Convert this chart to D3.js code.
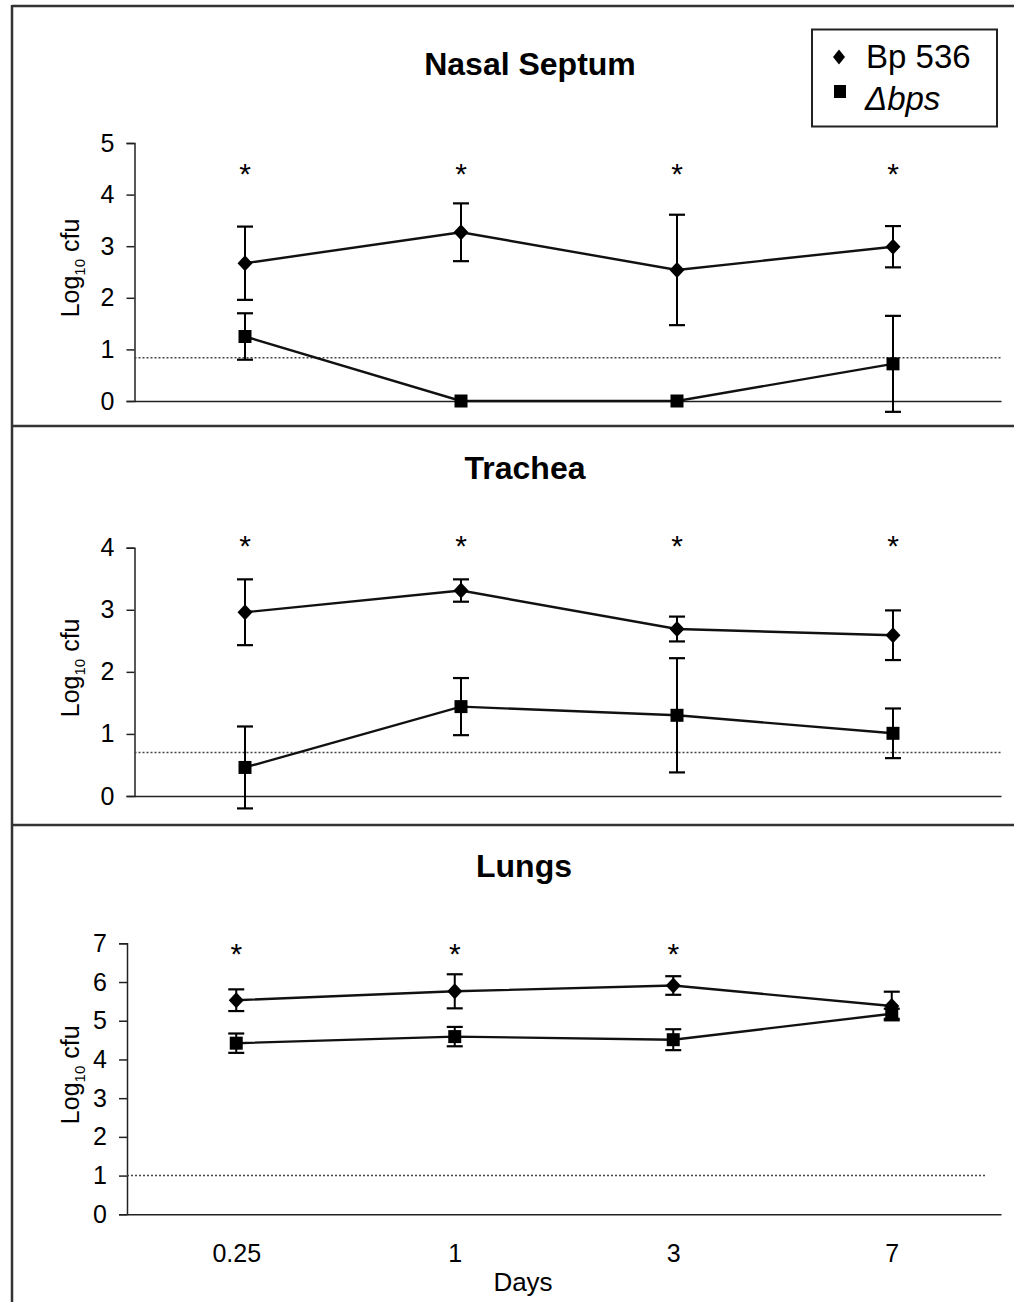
<!DOCTYPE html>
<html>
<head>
<meta charset="utf-8">
<script src="https://cdn.jsdelivr.net/npm/d3@7"></script>
<style>
  html, body { margin: 0; padding: 0; background: #fff; }
  svg { display: block; }
  text { font-family: "Liberation Sans", Arial, sans-serif; fill: #000; }
</style>
</head>
<body>
<svg id="chart" width="1014" height="1302"></svg>
<script>
// ---------------- data ----------------
const days = ["0.25", "1", "3", "7"];

const seriesNames = ["Bp 536", "\u0394bps"];

// Nasal septum
const bpNasal    = [2.67, 3.27, 2.54, 2.99];
const bpNasalSD  = [0.71, 0.56, 1.07, 0.40];
const dNasal     = [1.25, 0.00, 0.00, 0.72];
const dNasalSD   = [0.45, 0.00, 0.00, 0.93];
const sigNasal   = [true, true, true, true];

// Trachea
const bpTrachea   = [2.96, 3.31, 2.69, 2.59];
const bpTracheaSD = [0.53, 0.18, 0.20, 0.40];
const dTrachea    = [0.46, 1.44, 1.30, 1.01];
const dTracheaSD  = [0.66, 0.46, 0.92, 0.40];
const sigTrachea  = [true, true, true, true];

// Lungs
const bpLungs   = [5.53, 5.76, 5.91, 5.38];
const bpLungsSD = [0.28, 0.44, 0.24, 0.37];
const dLungs    = [4.42, 4.59, 4.51, 5.18];
const dLungsSD  = [0.25, 0.25, 0.27, 0.13];
const sigLungs  = [true, true, true, false];

const panelTitles = ["Nasal Septum", "Trachea", "Lungs"];
const yMaxima = [5, 4, 7];
const detectionLimits = [0.84, 0.70, 1.0];
const starLevels = [4.52, 4.12, 6.87];

// ---------------- layout ----------------
const svg = d3.select("#chart");
const FONT = '"Liberation Sans", Arial, sans-serif';

const panels = [
  { title: panelTitles[0], yMax: yMaxima[0], limit: detectionLimits[0], star: starLevels[0],
    bp: bpNasal, bpSD: bpNasalSD, d: dNasal, dSD: dNasalSD, sig: sigNasal,
    axisX: 134.5, right: 1001, pointRange: [137, 1001], yRange: [401, 143], limitEnd: 1001,
    titleY: 75, titleX: 530, showX: false },
  { title: panelTitles[1], yMax: yMaxima[1], limit: detectionLimits[1], star: starLevels[1],
    bp: bpTrachea, bpSD: bpTracheaSD, d: dTrachea, dSD: dTracheaSD, sig: sigTrachea,
    axisX: 134.5, right: 1001, pointRange: [137, 1001], yRange: [796, 547.7], limitEnd: 1001,
    titleY: 479, titleX: 525, showX: false },
  { title: panelTitles[2], yMax: yMaxima[2], limit: detectionLimits[2], star: starLevels[2],
    bp: bpLungs, bpSD: bpLungsSD, d: dLungs, dSD: dLungsSD, sig: sigLungs,
    axisX: 127, right: 1001, pointRange: [127, 1001], yRange: [1214.3, 943.3], limitEnd: 986,
    titleY: 877, titleX: 524, showX: true }
];

// frame
const frameColor = "#333";
svg.append("line").attr("x1", 12).attr("x2", 1014).attr("y1", 6).attr("y2", 6)
  .attr("stroke", frameColor).attr("stroke-width", 2.5);
svg.append("line").attr("x1", 12).attr("x2", 12).attr("y1", 5).attr("y2", 1302)
  .attr("stroke", frameColor).attr("stroke-width", 2.5);
[426, 825].forEach(y => {
  svg.append("line").attr("x1", 12).attr("x2", 1014).attr("y1", y).attr("y2", y)
    .attr("stroke", frameColor).attr("stroke-width", 2.5);
});

const diamondPath = (hw, hh) => `M0,${-hh}L${hw},0L0,${hh}L${-hw},0Z`;

panels.forEach(p => {
  const g = svg.append("g");
  const x = d3.scalePoint().domain(days).range(p.pointRange).padding(0.5);
  const y = d3.scaleLinear().domain([0, p.yMax]).range(p.yRange);

  // title
  g.append("text").attr("x", p.titleX).attr("y", p.titleY)
    .attr("text-anchor", "middle").attr("font-size", 32).attr("font-weight", "bold")
    .text(p.title);

  // y axis
  const yAxis = d3.axisLeft(y).ticks(p.yMax).tickSize(8).tickPadding(12).tickFormat(d3.format("d"));
  const ya = g.append("g").attr("transform", `translate(${p.axisX},0)`).call(yAxis);
  ya.select(".domain").attr("stroke", "#222").attr("stroke-width", 1.5);
  ya.selectAll(".tick line").attr("stroke", "#222").attr("stroke-width", 1.5);
  ya.selectAll(".tick text").attr("font-size", 25).attr("font-family", FONT).attr("fill", "#000");

  // x axis line (no ticks)
  const xAxis = d3.axisBottom(d3.scaleLinear().domain([0, 1]).range([p.axisX, p.right]))
    .tickValues([]).tickSizeOuter(0);
  const xa = g.append("g").attr("transform", `translate(0,${y(0)})`).call(xAxis);
  xa.select(".domain").attr("stroke", "#222").attr("stroke-width", 1.5);

  if (p.showX) {
    const xLab = d3.axisBottom(x).tickSize(0).tickPadding(30);
    const xl = g.append("g").attr("transform", `translate(0,${y(0)})`).call(xLab);
    xl.select(".domain").remove();
    xl.selectAll(".tick text").attr("font-size", 25).attr("font-family", FONT).attr("fill", "#000");
    g.append("text").attr("x", 523).attr("y", 1291).attr("text-anchor", "middle")
      .attr("font-size", 26).text("Days");
  }

  // y label
  const midY = (p.yRange[0] + p.yRange[1]) / 2 - 4;
  const yl = g.append("text")
    .attr("transform", `translate(${79},${midY}) rotate(-90)`)
    .attr("text-anchor", "middle").attr("font-size", 25);
  yl.append("tspan").text("Log");
  yl.append("tspan").attr("font-size", 15).attr("dy", 6).text("10");
  yl.append("tspan").attr("dy", -6).text(" cfu");

  // detection limit
  g.append("line").attr("x1", p.axisX).attr("x2", p.limitEnd)
    .attr("y1", y(p.limit)).attr("y2", y(p.limit))
    .attr("stroke", "#444").attr("stroke-width", 1.5).attr("stroke-dasharray", "2,2");

  const series = [
    { vals: p.bp, sd: p.bpSD, shape: "diamond" },
    { vals: p.d, sd: p.dSD, shape: "square" }
  ];

  series.forEach(s => {
    const pts = days.map((dd, i) => ({ day: dd, v: s.vals[i], sd: s.sd[i] }));
    // error bars
    const eb = g.append("g");
    pts.filter(d => d.sd > 0).forEach(d => {
      const cx = x(d.day);
      eb.append("line").attr("x1", cx).attr("x2", cx)
        .attr("y1", y(d.v + d.sd)).attr("y2", y(d.v - d.sd))
        .attr("stroke", "#000").attr("stroke-width", 2);
      [d.v + d.sd, d.v - d.sd].forEach(val => {
        eb.append("line").attr("x1", cx - 8).attr("x2", cx + 8)
          .attr("y1", y(val)).attr("y2", y(val))
          .attr("stroke", "#000").attr("stroke-width", 2.2);
      });
    });
    // line
    g.append("path").datum(pts)
      .attr("d", d3.line().x(d => x(d.day)).y(d => y(d.v)))
      .attr("fill", "none").attr("stroke", "#111").attr("stroke-width", 2.4);
    // markers
    g.selectAll(null).data(pts).enter().append("path")
      .attr("transform", d => `translate(${x(d.day)},${y(d.v)})`)
      .attr("d", s.shape === "diamond" ? diamondPath(7.5, 8) : "M-6.5,-6.5H6.5V6.5H-6.5Z")
      .attr("fill", "#000");
  });

  // significance asterisks
  g.selectAll(null).data(days.filter((dd, i) => p.sig[i])).enter().append("text")
    .attr("x", d => x(d)).attr("y", y(p.star) + 16)
    .attr("text-anchor", "middle").attr("font-size", 30).text("*");
});

// legend
const lg = svg.append("g");
lg.append("rect").attr("x", 812).attr("y", 29.5).attr("width", 185).attr("height", 97)
  .attr("fill", "#fff").attr("stroke", "#222").attr("stroke-width", 2);
lg.append("path").attr("transform", "translate(839,57)").attr("d", diamondPath(6, 7.5)).attr("fill", "#000");
lg.append("path").attr("transform", "translate(840,91.5)").attr("d", "M-6,-6.5H6V6.5H-6Z").attr("fill", "#000");
lg.append("text").attr("x", 866).attr("y", 68).attr("font-size", 33).text(seriesNames[0]);
lg.append("text").attr("x", 865).attr("y", 110).attr("font-size", 33).attr("font-style", "italic").text(seriesNames[1]);
</script>
</body>
</html>
